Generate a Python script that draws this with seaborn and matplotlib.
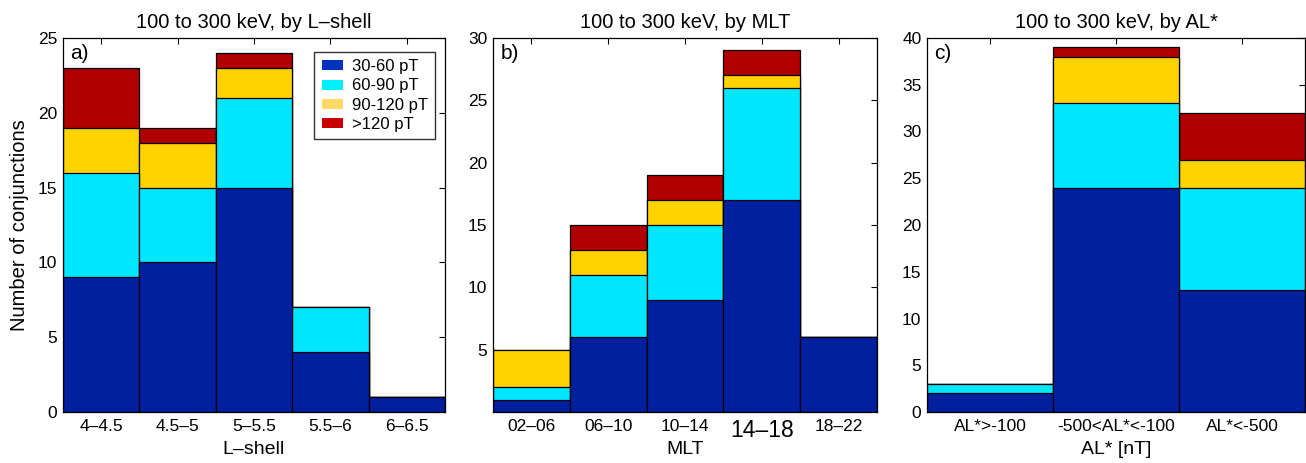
import numpy as np
import pandas as pd
import seaborn as sns
import matplotlib.pyplot as plt
from matplotlib.patches import Patch

sns.set_style("white")
plt.rcParams['font.family'] = ['Liberation Sans', 'DejaVu Sans']
plt.rcParams['text.color'] = 'black'
plt.rcParams['axes.labelcolor'] = 'black'

# categories
lshell_bins = ["4–4.5", "4.5–5", "5–5.5", "5.5–6", "6–6.5"]
mlt_bins = ["02–06", "06–10", "10–14", "14–18", "18–22"]
al_bins = ["AL*>-100", "-500<AL*<-100", "AL*<-500"]

series_names = ["30-60 pT", "60-90 pT", "90-120 pT", ">120 pT"]

# counts per amplitude class (by L-shell)
lshell_30_60 = [9, 10, 15, 4, 1]
lshell_60_90 = [7, 5, 6, 3, 0]
lshell_90_120 = [3, 3, 2, 0, 0]
lshell_gt120 = [4, 1, 1, 0, 0]

# by MLT
mlt_30_60 = [1, 6, 9, 17, 6]
mlt_60_90 = [1, 5, 6, 9, 0]
mlt_90_120 = [3, 2, 2, 1, 0]
mlt_gt120 = [0, 2, 2, 2, 0]

# by AL*
al_30_60 = [2, 24, 13]
al_60_90 = [1, 9, 11]
al_90_120 = [0, 5, 3]
al_gt120 = [0, 1, 5]

bar_colors = ["#0020A0", "#00E6FF", "#FFD200", "#B00000"]
legend_colors = ["#0033BB", "#00F0FF", "#FFD966", "#C80000"]


def stacked(ax, cats, layers):
    # draw cumulative totals from the top layer down so they overlap as a stack
    cum = np.cumsum(np.array(layers), axis=0)
    for i in range(len(layers) - 1, -1, -1):
        df = pd.DataFrame({"cat": cats, "val": cum[i]})
        sns.barplot(data=df, x="cat", y="val", order=cats, color=bar_colors[i],
                    saturation=1, width=1, edgecolor="black", linewidth=0.9,
                    errorbar=None, ax=ax)


fig = plt.figure(figsize=(13.06, 4.63), dpi=100)
ax1 = fig.add_axes([0.0482, 0.110, 0.2925, 0.808])
ax2 = fig.add_axes([0.3775, 0.110, 0.294, 0.808])
ax3 = fig.add_axes([0.7098, 0.110, 0.2894, 0.808])

stacked(ax1, lshell_bins, [lshell_30_60, lshell_60_90, lshell_90_120, lshell_gt120])
stacked(ax2, mlt_bins, [mlt_30_60, mlt_60_90, mlt_90_120, mlt_gt120])
stacked(ax3, al_bins, [al_30_60, al_60_90, al_90_120, al_gt120])

ax1.set_ylim(0, 25)
ax1.set_yticks([0, 5, 10, 15, 20, 25])
ax2.set_ylim(0, 30)
ax2.set_yticks([5, 10, 15, 20, 25, 30])
ax3.set_ylim(0, 40)
ax3.set_yticks([0, 5, 10, 15, 20, 25, 30, 35, 40])

titles = ["100 to 300 keV, by L–shell", "100 to 300 keV, by MLT", "100 to 300 keV, by AL*"]
xlabels = ["L–shell", "MLT", "AL* [nT]"]
panel = ["a)", "b)", "c)"]
for ax, t, xl, p in zip([ax1, ax2, ax3], titles, xlabels, panel):
    ax.set_xlim(-0.5, len(ax.get_xticks()) - 0.5)
    ax.set_title(t, fontsize=14.5, pad=7, color="black")
    ax.set_xlabel(xl, fontsize=14)
    ax.xaxis.set_label_coords(0.5, -0.078)
    ax.set_ylabel("")
    ax.tick_params(direction="in", top=True, right=True, length=4, width=0.8,
                   labelsize=12.5, colors="black")
    ax.tick_params(axis="x", pad=5)
    ax.tick_params(axis="y", pad=4)
    for s in ax.spines.values():
        s.set_visible(True)
        s.set_color("black")
        s.set_linewidth(0.9)
    ax.text(0.02, 0.985, p, transform=ax.transAxes, fontsize=15, va="top", ha="left")

ax1.set_ylabel("Number of conjunctions", fontsize=14.5)
ax1.yaxis.set_label_coords(-0.088, 0.5)

# the 14-18 tick label is drawn larger in the original
for lab in ax2.get_xticklabels():
    if lab.get_text() == "14–18":
        lab.set_fontsize(16.5)

handles = [Patch(facecolor=c, edgecolor="none") for c in legend_colors]
leg = ax1.legend(handles, series_names, loc="upper right", fontsize=12,
                 frameon=True, fancybox=False, edgecolor="black",
                 handlelength=1.3, handleheight=0.55, handletextpad=0.5,
                 borderpad=0.45, borderaxespad=0, labelspacing=0.25,
                 bbox_to_anchor=(0.974, 0.963))
leg.get_frame().set_linewidth(1.0)

plt.savefig("out.png", dpi=100)
